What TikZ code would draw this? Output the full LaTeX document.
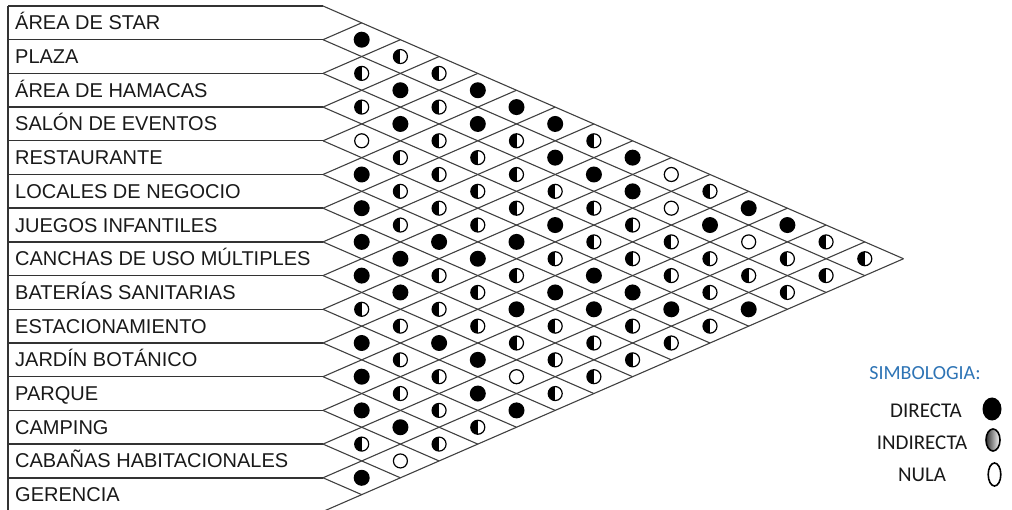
\documentclass[tikz,border=0pt]{standalone}
\usepackage{fontspec}
\setmainfont{Liberation Sans}
\newfontfamily\legendfont{Carlito}
\definecolor{legblue}{HTML}{2E74B5}
\begin{document}
\begin{tikzpicture}[x=1pt,y=-1pt,
  hline/.style={draw=black!80,line width=1.4pt},
  diag/.style={draw=black!75,line width=1.1pt},
  lbl/.style={anchor=base west,inner sep=0pt,text=black!90,font=\fontsize{20}{22}\selectfont},
  leg/.style={anchor=base,inner sep=0pt,font=\legendfont\fontsize{21}{23}\selectfont},
  dotF/.style={circle,fill=black,inner sep=0pt,minimum size=16pt},
  dotH/.style={circle,draw=black,line width=1.2pt,inner sep=0pt,minimum size=14pt,
    path picture={\fill[black] (path picture bounding box.south west) rectangle (path picture bounding box.north);}},
  dotO/.style={circle,draw=black,line width=1.2pt,inner sep=0pt,minimum size=14pt}]
\useasboundingbox (0,0) rectangle (1012,510);
% boundaries
\foreach \k in {0,...,15} {
  \coordinate (b\k) at (323,{6+33.7*\k});
  \coordinate (l\k) at (8,{6+33.7*\k});
  \coordinate (dn\k) at ({323+38.7*(15-\k)},{6+33.7*\k+16.85*(15-\k)});
  \coordinate (up\k) at ({323+38.7*\k},{6+33.7*\k-16.85*\k});
}
\draw[hline] (l0) -- (l15);
\foreach \k in {0,...,15} {
  \draw[hline] (l\k) -- (b\k);
}
\foreach \k in {0,...,14} { \draw[diag] (b\k) -- (dn\k); }
\foreach \k in {1,...,15} { \draw[diag] (b\k) -- (up\k); }
% labels
\foreach \t [count=\i] in {ÁREA DE STAR,PLAZA,ÁREA DE HAMACAS,SALÓN DE EVENTOS,RESTAURANTE,LOCALES DE NEGOCIO,JUEGOS INFANTILES,CANCHAS DE USO MÚLTIPLES,BATERÍAS SANITARIAS,ESTACIONAMIENTO,JARDÍN BOTÁNICO,PARQUE,CAMPING,CABAÑAS HABITACIONALES,GERENCIA} {
  \node[lbl] (t\i) at (15,{6+33.7*(\i-0.5)+7}) {\t};
}
% dots
\foreach \d/\vals in {
  1/{F,H,H,O,F,F,F,F,H,F,F,F,H,F},
  2/{H,F,F,H,H,H,F,F,H,H,H,F,O},
  3/{H,H,H,H,H,F,H,H,F,H,H,H},
  4/{F,F,H,H,H,F,H,H,F,F,H},
  5/{F,H,H,H,F,H,F,H,O,F},
  6/{F,F,H,F,H,F,H,H,H},
  7/{H,F,H,H,F,F,H,H},
  8/{F,F,H,H,F,H,H},
  9/{O,O,H,H,F,H},
  10/{H,F,H,H,H},
  11/{F,O,H,F},
  12/{F,H,H},
  13/{H,H},
  14/{H}} {
  \foreach \v [count=\i] in \vals {
    \node[dot\v] (c\i-\d) at ({323+38.7*\d},{6+16.85*(2*\i+\d-1)}) {};
  }
}
% legend
\node[leg,text=legblue,font=\legendfont\fontsize{20}{22}\selectfont] (simb) at (925,380) {SIMBOLOGIA:};
\node[leg,text=black!90] (ldir) at (926,417.5) {DIRECTA};
\node[leg,text=black!90] (lind) at (922,449.5) {INDIRECTA};
\node[leg,text=black!90] (lnul) at (922,481) {NULA};
\fill[black] (992,409) ellipse [x radius=9.5pt,y radius=11.5pt];
\shade[left color=black!80,right color=white,draw=black,line width=1.6pt] (993,440) ellipse [x radius=7pt,y radius=11pt];
\draw[black,line width=1.6pt] (994.5,474.5) ellipse [x radius=6.3pt,y radius=11.5pt];
\end{tikzpicture}
\end{document}
